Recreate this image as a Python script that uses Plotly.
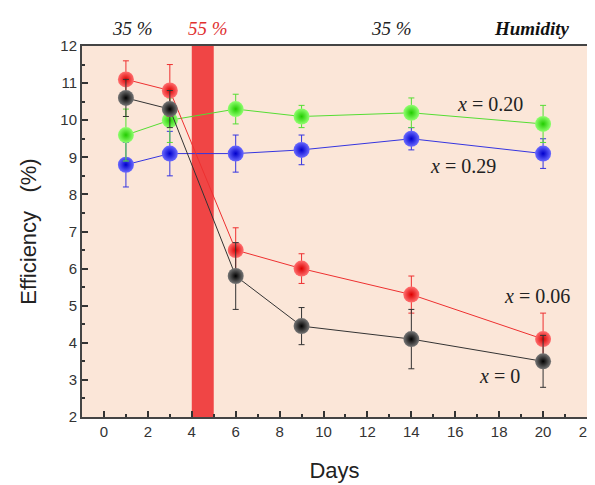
import plotly.graph_objects as go

days = [1, 3, 6, 9, 14, 20]
eff_x0 = [10.6, 10.3, 5.8, 4.45, 4.1, 3.5]
err_x0 = [0.5, 0.5, 0.9, 0.5, 0.8, 0.7]
eff_x006 = [11.1, 10.8, 6.5, 6.0, 5.3, 4.1]
err_x006 = [0.5, 0.7, 0.6, 0.4, 0.5, 0.7]
eff_x020 = [9.6, 10.0, 10.3, 10.1, 10.2, 9.9]
err_x020 = [0.7, 0.6, 0.4, 0.3, 0.4, 0.5]
eff_x029 = [8.8, 9.1, 9.1, 9.2, 9.5, 9.1]
err_x029 = [0.6, 0.6, 0.5, 0.4, 0.3, 0.4]

series = [
    ("x = 0.29", eff_x029, err_x029, "#3535e0", "#0000cc", "#6a6aff"),
    ("x = 0.20", eff_x020, err_x020, "#55dd33", "#22cc00", "#90ff70"),
    ("x = 0.06", eff_x006, err_x006, "#ee3030", "#dd0000", "#ff7070"),
    ("x = 0", eff_x0, err_x0, "#333333", "#000000", "#777777"),
]

humid_band = (4, 5)

fig = go.Figure()
fig.add_shape(type="rect", xref="x", yref="paper", x0=humid_band[0], x1=humid_band[1],
              y0=0, y1=1, fillcolor="#f04545", line_width=0, layer="below")

for name, y, e, lc, edge, center in series:
    fig.add_trace(go.Scatter(
        x=days, y=y, name=name, mode="lines+markers",
        line=dict(color=lc, width=1),
        error_y=dict(type="data", array=e, color=lc, thickness=1, width=3),
        marker=dict(size=16, color=center, gradient=dict(type="radial", color=edge),
                    line=dict(width=0)),
    ))

labels = [
    (17.6, 10.44, "<i>x</i> = 0.20"),
    (16.35, 8.77, "<i>x</i> = 0.29"),
    (19.7, 5.26, "<i>x</i> = 0.06"),
    (18.0, 3.1, "<i>x</i> = 0"),
]
for lx, ly, t in labels:
    fig.add_annotation(x=lx, y=ly, text=t, showarrow=False, yanchor="middle",
                       font=dict(family="Liberation Serif", size=20, color="#222222"))

tops = [
    (1.3, "<i>35 %</i>", "#222222"),
    (4.75, "<i>55 %</i>", "#e03030"),
    (13.1, "<i>35 %</i>", "#222222"),
    (19.45, "<b><i>Humidity</i></b>", "#111111"),
]
for tx, t, c in tops:
    fig.add_annotation(x=tx, y=1.048, yref="paper", text=t, showarrow=False,
                       yanchor="middle",
                       font=dict(family="Liberation Serif", size=19, color=c))

axis_common = dict(
    showline=True, linecolor="#444444", linewidth=2, mirror=True,
    ticks="inside", ticklen=6, tickwidth=1.5, tickcolor="#333333",
    showgrid=False, zeroline=False, automargin=False, ticklabeloverflow="allow",
    tickfont=dict(family="Liberation Sans", size=15, color="#333333"),
    minor=dict(ticks="inside", ticklen=3, tickwidth=1.5, tickcolor="#333333"),
)

# page body has an 8px default margin, so the figure is shrunk by that offset
fig.update_layout(
    width=587, height=477,
    margin=dict(l=74, r=8, t=38, b=68),
    paper_bgcolor="white", plot_bgcolor="#fbe6d8",
    showlegend=False,
    xaxis=dict(range=[-1, 22], dtick=2, minor_dtick=1,
               title=dict(text="Days", font=dict(family="Liberation Sans", size=22, color="#222222"), standoff=24),
               **axis_common),
    yaxis=dict(range=[2, 12], dtick=1, minor_dtick=0.5,
               title=dict(text="Efficiency   (%)", font=dict(family="Liberation Sans", size=22, color="#222222"), standoff=18),
               **axis_common),
)

fig.write_html("out.html")
